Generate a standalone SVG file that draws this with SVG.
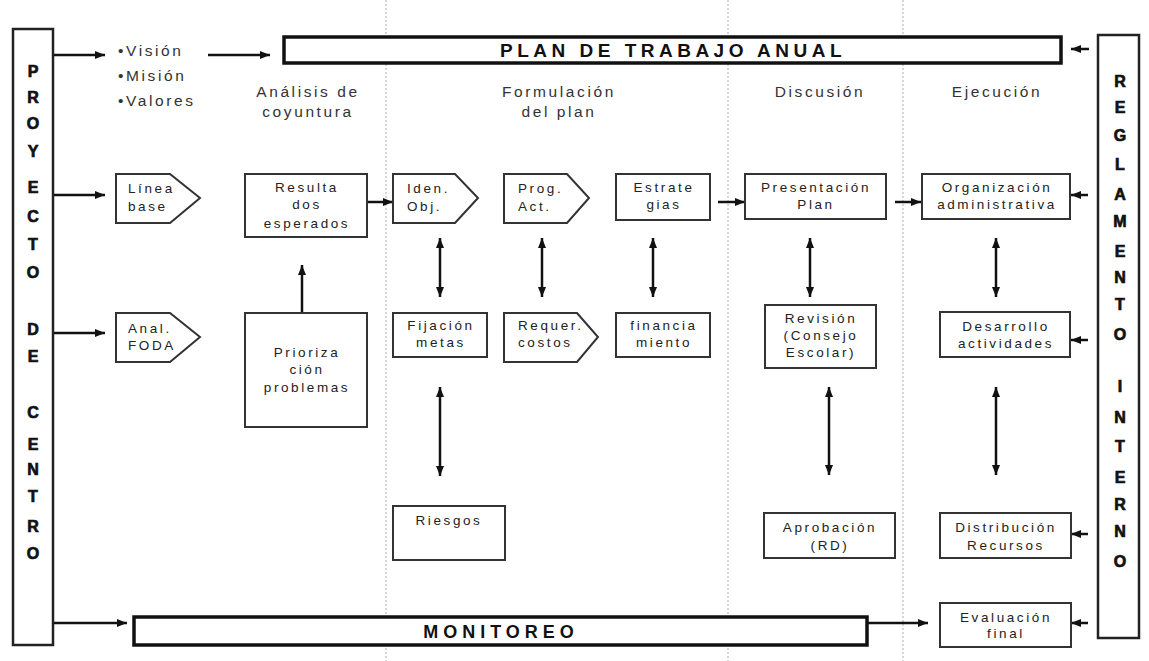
<svg xmlns="http://www.w3.org/2000/svg" width="1149" height="661" viewBox="0 0 1149 661">
<style>
.div{stroke:#c8c8c8;stroke-width:1.5;stroke-dasharray:2 2;fill:none}
.box{fill:#fff;stroke:#333;stroke-width:2}
.bar{fill:#fff;stroke:#111;stroke-width:3.5}
.side{fill:#fff;stroke:#222;stroke-width:2.5}
.t{font-family:"Liberation Sans",Arial,sans-serif;font-size:13.5px;letter-spacing:2.6px;fill:#222}
.c{text-anchor:middle}
.h{font-family:"Liberation Sans",Arial,sans-serif;font-size:15.5px;letter-spacing:2.6px;fill:#333;text-anchor:middle}
.v{font-family:"Liberation Sans",Arial,sans-serif;font-size:15.5px;letter-spacing:2.6px;fill:#333}
.vl{font-family:"Liberation Sans",Arial,sans-serif;font-size:16px;font-weight:900;fill:#111;stroke:#111;stroke-width:0.7;text-anchor:middle}
.big{font-family:"Liberation Sans",Arial,sans-serif;font-size:19px;font-weight:bold;letter-spacing:4.5px;fill:#111;text-anchor:middle}
.ar{stroke:#111;stroke-width:2.5;fill:none;marker-end:url(#ah)}
.dar{stroke:#111;stroke-width:2.5;fill:none;marker-end:url(#ah);marker-start:url(#ah)}
</style>
<defs>
<marker id="ah" markerUnits="userSpaceOnUse" markerWidth="10" markerHeight="8" refX="10" refY="4" orient="auto-start-reverse">
<path d="M0,0 L10,4 L0,8 z" fill="#111"/>
</marker>
</defs>
<rect width="1149" height="661" fill="#fff"/>
<g id="dividers">
<line class="div" x1="386" y1="0" x2="386" y2="661"/>
<line class="div" x1="728" y1="0" x2="728" y2="661"/>
<line class="div" x1="903" y1="0" x2="903" y2="661"/>
</g>
<g id="headers">
<text class="v" x="118" y="56">•Visión</text>
<text class="v" x="118" y="81">•Misión</text>
<text class="v" x="118" y="106">•Valores</text>
<text class="h" x="308" y="97">Análisis de</text>
<text class="h" x="308" y="117">coyuntura</text>
<text class="h" x="559" y="97">Formulación</text>
<text class="h" x="559" y="117">del plan</text>
<text class="h" x="820" y="97">Discusión</text>
<text class="h" x="997" y="97">Ejecución</text>
</g>
<g id="connectors">
<line class="ar" x1="53" y1="55" x2="105" y2="55"/>
<line class="ar" x1="208" y1="55" x2="270" y2="55"/>
<line class="ar" x1="1089" y1="49" x2="1071" y2="49"/>
<line class="ar" x1="53" y1="195" x2="105" y2="195"/>
<line class="ar" x1="53" y1="333" x2="105" y2="333"/>
<line class="ar" x1="53" y1="623" x2="127" y2="623"/>
<line class="ar" x1="302" y1="313" x2="302" y2="265"/>
<line class="ar" x1="367" y1="202" x2="393" y2="202"/>
<line class="ar" x1="718" y1="202" x2="745" y2="202"/>
<line class="ar" x1="895" y1="202" x2="921" y2="202"/>
<line class="ar" x1="867" y1="623" x2="928" y2="623"/>
<line class="ar" x1="1088" y1="195" x2="1071" y2="195"/>
<line class="ar" x1="1088" y1="340" x2="1071" y2="340"/>
<line class="ar" x1="1088" y1="534" x2="1071" y2="534"/>
<line class="ar" x1="1088" y1="623" x2="1071" y2="623"/>
<line class="dar" x1="440" y1="238" x2="440" y2="297"/>
<line class="dar" x1="542" y1="238" x2="542" y2="297"/>
<line class="dar" x1="653" y1="238" x2="653" y2="297"/>
<line class="dar" x1="810" y1="238" x2="810" y2="297"/>
<line class="dar" x1="996" y1="238" x2="996" y2="297"/>
<line class="dar" x1="440" y1="387" x2="440" y2="476"/>
<line class="dar" x1="829" y1="387" x2="829" y2="475"/>
<line class="dar" x1="996" y1="387" x2="996" y2="475"/>
</g>
<g id="proyecto">
<rect class="side" x="13" y="29" width="40" height="616"/>
<text class="vl" x="33" y="77">P</text>
<text class="vl" x="33" y="103">R</text>
<text class="vl" x="33" y="129">O</text>
<text class="vl" x="33" y="157">Y</text>
<text class="vl" x="33" y="193">E</text>
<text class="vl" x="33" y="222">C</text>
<text class="vl" x="33" y="250">T</text>
<text class="vl" x="33" y="278">O</text>
<text class="vl" x="33" y="335">D</text>
<text class="vl" x="33" y="362">E</text>
<text class="vl" x="33" y="418">C</text>
<text class="vl" x="33" y="450">E</text>
<text class="vl" x="33" y="475">N</text>
<text class="vl" x="33" y="502">T</text>
<text class="vl" x="33" y="532">R</text>
<text class="vl" x="33" y="559">O</text>
</g>
<g id="reglamento">
<rect class="side" x="1098" y="35" width="41" height="603"/>
<text class="vl" x="1120" y="87">R</text>
<text class="vl" x="1120" y="113">E</text>
<text class="vl" x="1120" y="141">G</text>
<text class="vl" x="1120" y="170">L</text>
<text class="vl" x="1120" y="200">A</text>
<text class="vl" x="1120" y="227">M</text>
<text class="vl" x="1120" y="257">E</text>
<text class="vl" x="1120" y="283">N</text>
<text class="vl" x="1120" y="310">T</text>
<text class="vl" x="1120" y="340">O</text>
<text class="vl" x="1120" y="392">I</text>
<text class="vl" x="1120" y="423">N</text>
<text class="vl" x="1120" y="452">T</text>
<text class="vl" x="1120" y="483">E</text>
<text class="vl" x="1120" y="510">R</text>
<text class="vl" x="1120" y="537">N</text>
<text class="vl" x="1120" y="567">O</text>
</g>
<g id="plan">
<rect class="bar" x="284" y="37" width="777" height="26"/>
<text class="big" x="673" y="57">PLAN DE TRABAJO ANUAL</text>
</g>
<g id="monitoreo">
<rect class="bar" x="134" y="617" width="733" height="28"/>
<text class="big" x="501" y="638" style="font-size:18px;letter-spacing:5px">MONITOREO</text>
</g>
<g id="linea-base">
<path class="box" d="M116,174 H170 L200,198 L170,223 H116 Z"/>
<text class="t" x="128" y="193">Línea</text>
<text class="t" x="128" y="211">base</text>
</g>
<g id="anal-foda">
<path class="box" d="M116,313 H170 L200,337 L170,362 H116 Z"/>
<text class="t" x="128" y="333">Anal.</text>
<text class="t" x="128" y="350">FODA</text>
</g>
<g id="resultados">
<rect class="box" x="245" y="174" width="122" height="63"/>
<text class="t c" x="307" y="192">Resulta</text>
<text class="t c" x="307" y="209">dos</text>
<text class="t c" x="307" y="228">esperados</text>
</g>
<g id="priorizacion">
<rect class="box" x="245" y="313" width="122" height="114"/>
<text class="t c" x="307" y="357">Prioriza</text>
<text class="t c" x="307" y="374">ción</text>
<text class="t c" x="307" y="392">problemas</text>
</g>
<g id="iden-obj">
<path class="box" d="M393,174 H455 L478,198 L455,223 H393 Z"/>
<text class="t" x="407" y="193">Iden.</text>
<text class="t" x="407" y="211">Obj.</text>
</g>
<g id="prog-act">
<path class="box" d="M504,174 H567 L589,198 L567,223 H504 Z"/>
<text class="t" x="518" y="193">Prog.</text>
<text class="t" x="518" y="211">Act.</text>
</g>
<g id="estrategias">
<rect class="box" x="616" y="174" width="94" height="46"/>
<text class="t c" x="664" y="192">Estrate</text>
<text class="t c" x="664" y="209">gias</text>
</g>
<g id="fijacion">
<rect class="box" x="393" y="313" width="94" height="44"/>
<text class="t c" x="441" y="330">Fijación</text>
<text class="t c" x="441" y="347">metas</text>
</g>
<g id="requer">
<path class="box" d="M504,313 H577 L598,337 L577,362 H504 Z"/>
<text class="t" x="518" y="330">Requer.</text>
<text class="t" x="518" y="347">costos</text>
</g>
<g id="financiamiento">
<rect class="box" x="616" y="313" width="94" height="44"/>
<text class="t c" x="664" y="330">financia</text>
<text class="t c" x="664" y="347">miento</text>
</g>
<g id="riesgos">
<rect class="box" x="393" y="506" width="112" height="54"/>
<text class="t c" x="449" y="525">Riesgos</text>
</g>
<g id="presentacion">
<rect class="box" x="745" y="174" width="141" height="45"/>
<text class="t c" x="816" y="192">Presentación</text>
<text class="t c" x="816" y="209">Plan</text>
</g>
<g id="revision">
<rect class="box" x="765" y="305" width="111" height="63"/>
<text class="t c" x="821" y="323">Revisión</text>
<text class="t c" x="821" y="340">(Consejo</text>
<text class="t c" x="821" y="357">Escolar)</text>
</g>
<g id="aprobacion">
<rect class="box" x="764" y="513" width="131" height="45"/>
<text class="t c" x="830" y="532">Aprobación</text>
<text class="t c" x="830" y="550">(RD)</text>
</g>
<g id="organizacion">
<rect class="box" x="922" y="174" width="148" height="45"/>
<text class="t c" x="997" y="192">Organización</text>
<text class="t c" x="997" y="209">administrativa</text>
</g>
<g id="desarrollo">
<rect class="box" x="940" y="312" width="130" height="45"/>
<text class="t c" x="1006" y="331">Desarrollo</text>
<text class="t c" x="1006" y="348">actividades</text>
</g>
<g id="distribucion">
<rect class="box" x="940" y="513" width="131" height="45"/>
<text class="t c" x="1006" y="532">Distribución</text>
<text class="t c" x="1006" y="550">Recursos</text>
</g>
<g id="evaluacion">
<rect class="box" x="940" y="603" width="131" height="44"/>
<text class="t c" x="1006" y="622">Evaluación</text>
<text class="t c" x="1006" y="638">final</text>
</g>
</svg>
